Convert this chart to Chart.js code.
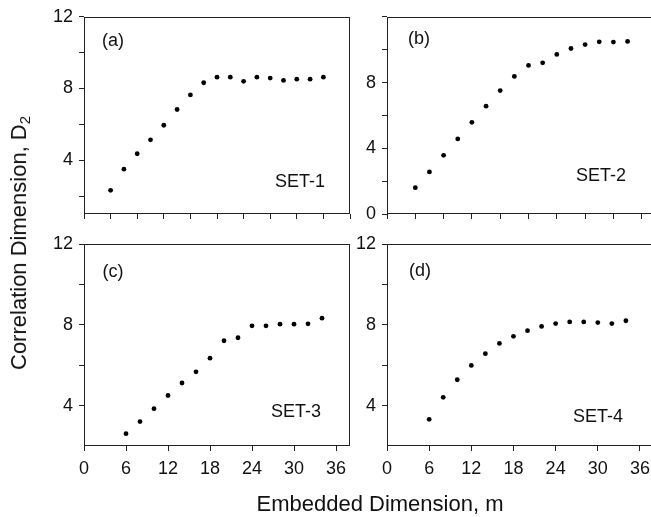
<!DOCTYPE html>
<html>
<head>
<meta charset="utf-8">
<script src="https://cdn.jsdelivr.net/npm/chart.js@4.4.1/dist/chart.umd.min.js"></script>
<style>
    html, body { margin: 0; padding: 0; background: #fff; overflow: hidden; }
    body { width: 651px; height: 517px; position: relative; font-family: "Liberation Sans", Arial, sans-serif; color: #111; }
    canvas { position: absolute; left: 0; top: 0; }
    .txt { position: absolute; transform: translate(-50%, -50%); white-space: nowrap; font-size: 18px; }
    .ytitle { position: absolute; left: 19px; top: 243px; transform: translate(-50%, -50%) rotate(-90deg); white-space: nowrap; font-size: 22px; }
    .xtitle { position: absolute; left: 380px; top: 504px; transform: translate(-50%, -50%); white-space: nowrap; font-size: 22px; }
    sub { font-size: 15px; vertical-align: -4px; line-height: 0; }
</style>
</head>
<body>
<canvas id="panel-a" width="700" height="517"></canvas>
<canvas id="panel-b" width="700" height="517"></canvas>
<canvas id="panel-c" width="700" height="517"></canvas>
<canvas id="panel-d" width="700" height="517"></canvas>

<div class="txt" style="left:113px; top:40px">(a)</div>
<div class="txt" style="left:419px; top:38px">(b)</div>
<div class="txt" style="left:113px; top:271px">(c)</div>
<div class="txt" style="left:420px; top:270px">(d)</div>
<div class="txt" style="left:300px; top:181px">SET-1</div>
<div class="txt" style="left:601px; top:175px">SET-2</div>
<div class="txt" style="left:296px; top:411px">SET-3</div>
<div class="txt" style="left:598px; top:416px">SET-4</div>

<div class="ytitle">Correlation Dimension, D<sub>2</sub></div>
<div class="xtitle">Embedded Dimension, m</div>

<script>
// embedding dimension m and correlation dimension D2 for each set
const set1M = [4, 6, 8, 10, 12, 14, 16, 18, 20, 22, 24, 26, 28, 30, 32, 34, 36]
const set1D2 = [2.32, 3.50, 4.36, 5.14, 5.95, 6.83, 7.64, 8.32, 8.63, 8.63, 8.40, 8.63, 8.58, 8.45, 8.52, 8.52, 8.63]

const set2M = [4, 6, 8, 10, 12, 14, 16, 18, 20, 22, 24, 26, 28, 30, 32, 34]
const set2D2 = [1.60, 2.56, 3.57, 4.57, 5.58, 6.56, 7.51, 8.37, 9.04, 9.20, 9.71, 10.07, 10.31, 10.48, 10.46, 10.50]

const set3M = [6, 8, 10, 12, 14, 16, 18, 20, 22, 24, 26, 28, 30, 32, 34]
const set3D2 = [2.61, 3.21, 3.85, 4.50, 5.12, 5.67, 6.35, 7.21, 7.36, 7.95, 7.95, 8.03, 8.03, 8.05, 8.33]

const set4M = [6, 8, 10, 12, 14, 16, 18, 20, 22, 24, 26, 28, 30, 32, 34]
const set4D2 = [3.32, 4.41, 5.28, 5.99, 6.57, 7.08, 7.43, 7.71, 7.92, 8.06, 8.14, 8.14, 8.11, 8.06, 8.20]

// tick positions and which of them carry a label
const xTicksTop = [0, 4, 8, 12, 16, 20, 24, 28, 32, 36, 40]
const xTicksBottom = [0, 6, 12, 18, 24, 30, 36]
const yTicksA = [2, 4, 6, 8, 10, 12]
const yTicksB = [0, 2, 4, 6, 8, 10, 12]
const yTicksCD = [4, 6, 8, 10, 12]
const yLabelsA = [4, 8, 12]
const yLabelsB = [0, 4, 8]
const yLabelsCD = [4, 8, 12]

const FONT = '"Liberation Sans", Arial, sans-serif'
const LINE = '#222'
const CANVAS_W = 700
const CANVAS_H = 517
const Y_AXIS_W = 60

// draws the closed box around each plot area
const frame = {
    id: 'frame',
    beforeDatasetsDraw(chart) {
        const { ctx, chartArea: a } = chart
        ctx.save()
        ctx.strokeStyle = LINE
        ctx.lineWidth = 1
        ctx.strokeRect(Math.round(a.left) + 0.5, Math.round(a.top) + 0.5,
            Math.round(a.right - a.left) - 1, Math.round(a.bottom - a.top) - 1)
        ctx.restore()
    }
}

function makePanel(id, xs, ys, cfg) {
    const { area, xMax, yMin, yMax, xTicks, yTicks, yLabels, xLabels } = cfg
    const xHeight = xLabels ? 40 : 6
    new Chart(document.getElementById(id), {
        type: 'scatter',
        data: {
            datasets: [{
                data: xs.map((m, i) => ({ x: m, y: ys[i] })),
                backgroundColor: '#000',
                borderColor: '#000',
                pointRadius: 2.4,
                borderWidth: 0
            }]
        },
        options: {
            responsive: false,
            animation: false,
            devicePixelRatio: 1,
            layout: {
                padding: {
                    left: area.left - Y_AXIS_W,
                    top: area.top,
                    right: CANVAS_W - area.right,
                    bottom: CANVAS_H - area.bottom - xHeight
                }
            },
            plugins: { legend: { display: false }, tooltip: { enabled: false } },
            scales: {
                x: {
                    type: 'linear',
                    min: 0,
                    max: xMax,
                    afterBuildTicks: s => { s.ticks = xTicks.map(v => ({ value: v })) },
                    afterFit: s => { s.height = xHeight },
                    border: { display: false },
                    grid: { drawOnChartArea: false, drawTicks: true, tickLength: 5, color: LINE, tickColor: LINE },
                    ticks: {
                        display: !!xLabels,
                        autoSkip: false,
                        maxRotation: 0,
                        padding: 7,
                        color: '#111',
                        font: { family: FONT, size: 18 },
                        callback: v => String(v)
                    }
                },
                y: {
                    min: yMin,
                    max: yMax,
                    afterBuildTicks: s => { s.ticks = yTicks.map(v => ({ value: v })) },
                    afterFit: s => { s.width = Y_AXIS_W },
                    border: { display: false },
                    grid: { drawOnChartArea: false, drawTicks: true, tickLength: 5, color: LINE, tickColor: LINE },
                    ticks: {
                        autoSkip: false,
                        padding: 6,
                        color: '#111',
                        font: { family: FONT, size: 18 },
                        callback: v => yLabels.includes(v) ? String(v) : ''
                    }
                }
            }
        },
        plugins: [frame]
    })
}

makePanel('panel-a', set1M, set1D2, {
    area: { left: 84, top: 12, right: 350, bottom: 214 },
    xMax: 40, yMin: 1, yMax: 12,
    xTicks: xTicksTop, yTicks: yTicksA, yLabels: yLabelsA, xLabels: false
})
makePanel('panel-b', set2M, set2D2, {
    area: { left: 387, top: 11, right: 670, bottom: 214 },
    xMax: 40, yMin: 0, yMax: 12,
    xTicks: xTicksTop, yTicks: yTicksB, yLabels: yLabelsB, xLabels: false
})
makePanel('panel-c', set3M, set3D2, {
    area: { left: 84, top: 244, right: 350, bottom: 446 },
    xMax: 38, yMin: 2, yMax: 12,
    xTicks: xTicksBottom, yTicks: yTicksCD, yLabels: yLabelsCD, xLabels: true
})
makePanel('panel-d', set4M, set4D2, {
    area: { left: 387, top: 244, right: 654, bottom: 446 },
    xMax: 38, yMin: 2, yMax: 12,
    xTicks: xTicksBottom, yTicks: yTicksCD, yLabels: yLabelsCD, xLabels: true
})
</script>
</body>
</html>
